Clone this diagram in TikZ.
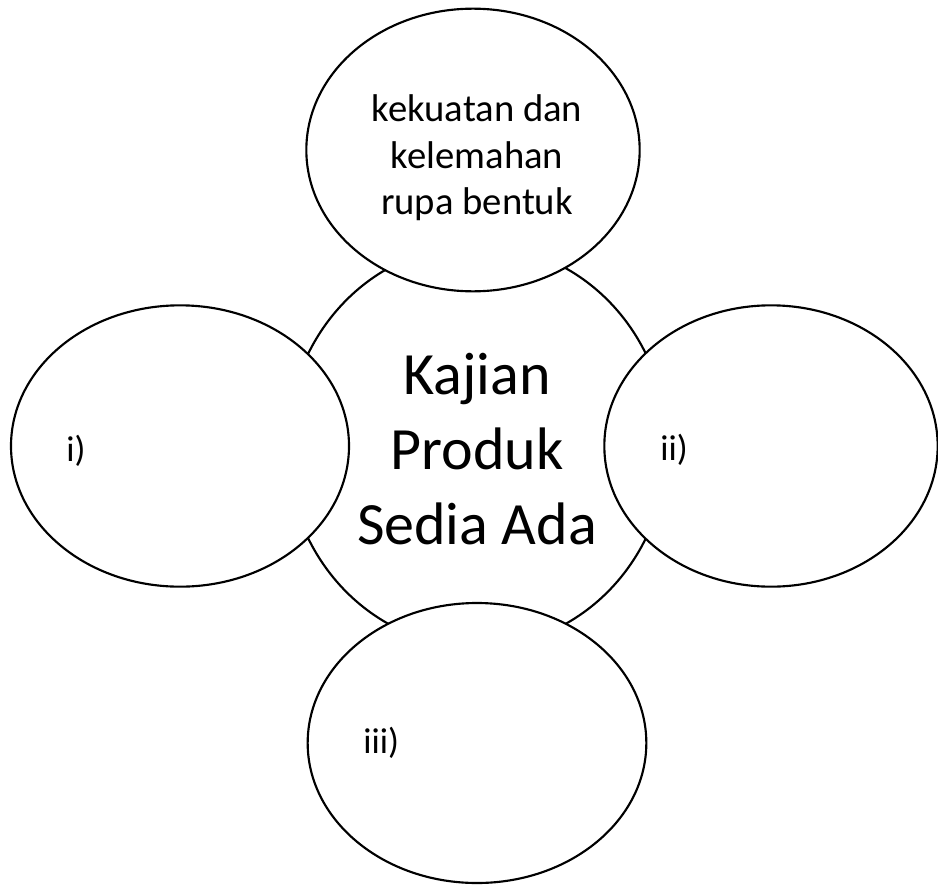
\documentclass[tikz,border=0pt]{standalone}
\usepackage{fontspec}
\setmainfont{Carlito}
\usepackage{tikz}
\usetikzlibrary{positioning,shapes.geometric}

\begin{document}
\begin{tikzpicture}[
    x=0.75pt, y=-0.75pt,
    bubble/.style = {draw, ellipse, fill=white, line width=1.6pt, inner sep=0pt},
    tag/.style = {inner sep=0pt, anchor=base west, font=\fontsize{27}{32}\selectfont}
]
\useasboundingbox (0,0) rectangle (938,885);

% centre circle first, the four around it cover its edge
\node (kp) [bubble, minimum width=285pt, minimum height=301.5pt] at (477,446) {};
\node (kpt) [align=center, inner sep=0pt, font=\fontsize{45}{56}\selectfont] at (477,449) {Kajian\\ Produk\\ Sedia Ada};

\node (kk) [bubble, minimum width=250pt, minimum height=212pt] at (473,150) {};
\node (kkt) [align=center, inner sep=0pt, font=\fontsize{29}{35}\selectfont] at (477,158) {kekuatan dan\\ kelemahan\\ rupa bentuk};

\node (e1) [bubble, minimum width=253.5pt, minimum height=211pt] at (180,446) {};
\node (e2) [bubble, minimum width=250pt, minimum height=211pt] at (771,446) {};
\node (e3) [bubble, minimum width=254pt, minimum height=210pt] at (477,743) {};

\node (l1) [tag] at (66,461) {i)};
\node (l2) [tag] at (660,460) {ii)};
\node (l3) [tag] at (363,753) {iii)};
\end{tikzpicture}
\end{document}
